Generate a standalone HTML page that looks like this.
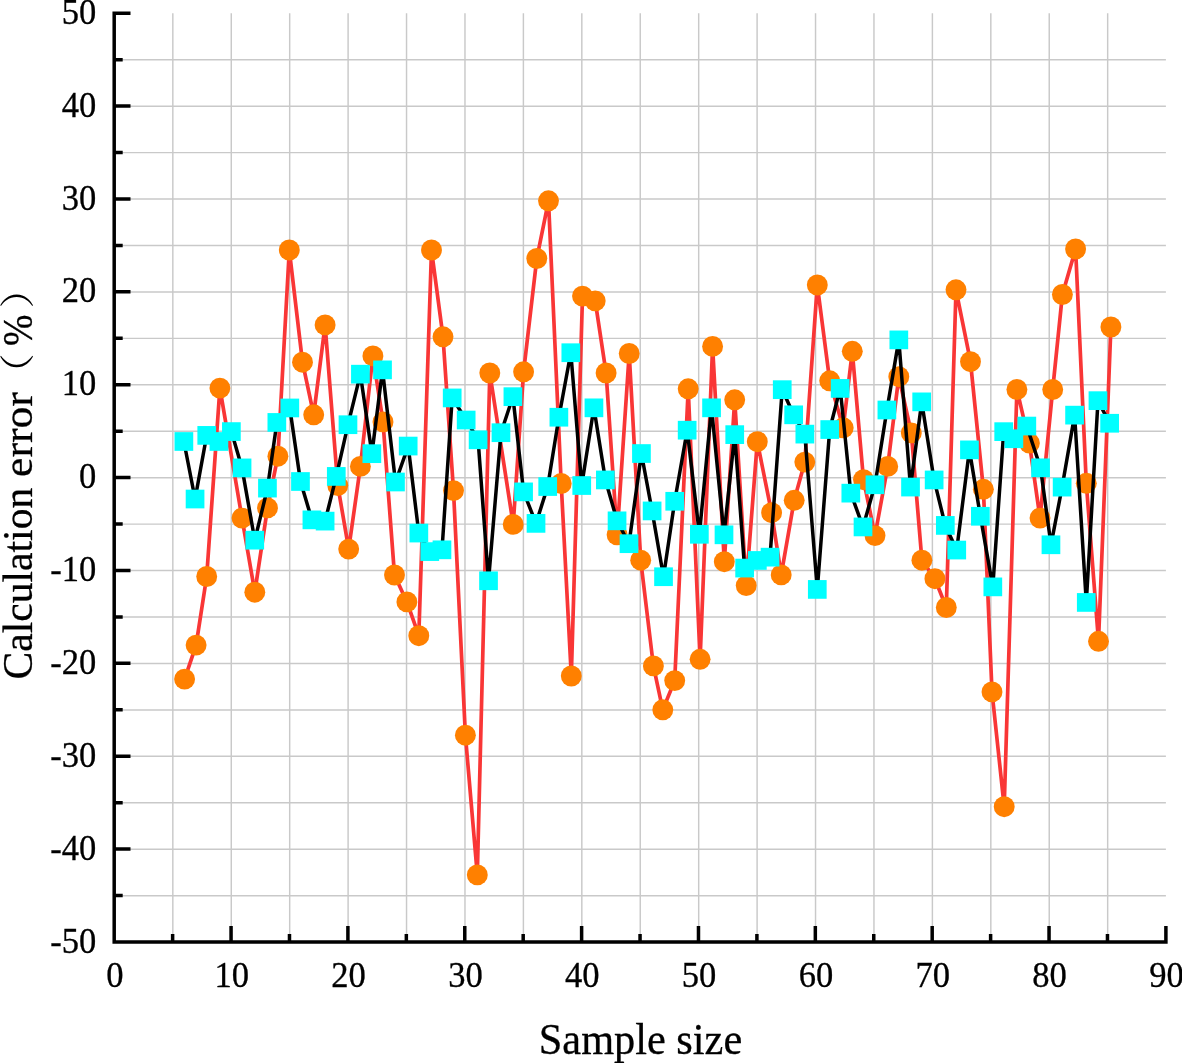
<!DOCTYPE html>
<html><head><meta charset="utf-8"><title>Calculation error vs sample size</title>
<style>html,body{margin:0;padding:0;background:#fff;}body{width:1182px;height:1063px;overflow:hidden;}svg{display:block;}text{font-family:"Liberation Serif","Noto Serif CJK SC",serif;fill:#000;}</style></head><body>
<svg width="1182" height="1063" viewBox="0 0 1182 1063">
<rect width="1182" height="1063" fill="#fff"/>
<path d="M172.83 13.20V942.00M231.26 13.20V942.00M289.68 13.20V942.00M348.11 13.20V942.00M406.54 13.20V942.00M464.97 13.20V942.00M523.39 13.20V942.00M581.82 13.20V942.00M640.25 13.20V942.00M698.68 13.20V942.00M757.11 13.20V942.00M815.53 13.20V942.00M873.96 13.20V942.00M932.39 13.20V942.00M990.82 13.20V942.00M1049.24 13.20V942.00M1107.67 13.20V942.00M114.20 895.66H1165.90M114.20 849.22H1165.90M114.20 802.78H1165.90M114.20 756.34H1165.90M114.20 709.90H1165.90M114.20 663.46H1165.90M114.20 617.02H1165.90M114.20 570.58H1165.90M114.20 524.14H1165.90M114.20 477.70H1165.90M114.20 431.26H1165.90M114.20 384.82H1165.90M114.20 338.38H1165.90M114.20 291.94H1165.90M114.20 245.50H1165.90M114.20 199.06H1165.90M114.20 152.62H1165.90M114.20 106.18H1165.90M114.20 59.74H1165.90" stroke="#c9c9c9" stroke-width="1.45" fill="none"/>
<polyline points="184.6,679.1 196.1,645.1 206.7,576.5 219.9,388.1 242.0,518.1 254.8,592.2 267.5,507.9 277.9,456.2 289.3,250.0 302.5,362.2 313.7,414.8 325.1,324.9 337.8,485.6 348.7,549.1 360.4,466.4 372.9,355.9 383.0,421.9 394.5,575.0 406.9,601.9 418.8,635.7 431.5,250.0 443.0,336.8 453.5,490.6 465.4,735.2 477.3,874.9 489.8,373.0 513.2,524.4 523.6,371.8 536.8,258.5 548.5,200.8 561.2,483.5 571.3,676.0 582.5,296.1 595.2,300.9 606.1,373.0 617.1,534.8 629.2,353.5 640.7,560.2 653.4,665.9 662.8,709.8 674.7,680.6 688.2,388.8 700.1,659.3 712.6,346.4 724.3,561.7 734.7,399.8 746.2,585.6 757.3,441.7 771.6,512.7 781.2,574.9 794.2,500.3 804.8,462.1 817.3,285.0 829.7,380.8 843.2,427.8 852.3,351.3 863.5,479.7 875.0,535.6 887.7,466.4 898.8,376.7 911.3,432.9 921.9,560.2 934.9,578.7 946.3,607.5 956.0,289.8 970.5,361.7 983.4,489.3 992.0,691.9 1004.2,806.7 1016.9,389.5 1029.4,443.1 1040.0,518.1 1052.7,389.5 1062.4,294.5 1075.6,249.0 1086.3,483.3 1098.5,641.3 1110.9,327.0" fill="none" stroke="#f93636" stroke-width="3.7" stroke-linejoin="round"/>
<g fill="#ff8000"><circle cx="184.6" cy="679.1" r="10.45"/><circle cx="196.1" cy="645.1" r="10.45"/><circle cx="206.7" cy="576.5" r="10.45"/><circle cx="219.9" cy="388.1" r="10.45"/><circle cx="242.0" cy="518.1" r="10.45"/><circle cx="254.8" cy="592.2" r="10.45"/><circle cx="267.5" cy="507.9" r="10.45"/><circle cx="277.9" cy="456.2" r="10.45"/><circle cx="289.3" cy="250.0" r="10.45"/><circle cx="302.5" cy="362.2" r="10.45"/><circle cx="313.7" cy="414.8" r="10.45"/><circle cx="325.1" cy="324.9" r="10.45"/><circle cx="337.8" cy="485.6" r="10.45"/><circle cx="348.7" cy="549.1" r="10.45"/><circle cx="360.4" cy="466.4" r="10.45"/><circle cx="372.9" cy="355.9" r="10.45"/><circle cx="383.0" cy="421.9" r="10.45"/><circle cx="394.5" cy="575.0" r="10.45"/><circle cx="406.9" cy="601.9" r="10.45"/><circle cx="418.8" cy="635.7" r="10.45"/><circle cx="431.5" cy="250.0" r="10.45"/><circle cx="443.0" cy="336.8" r="10.45"/><circle cx="453.5" cy="490.6" r="10.45"/><circle cx="465.4" cy="735.2" r="10.45"/><circle cx="477.3" cy="874.9" r="10.45"/><circle cx="489.8" cy="373.0" r="10.45"/><circle cx="513.2" cy="524.4" r="10.45"/><circle cx="523.6" cy="371.8" r="10.45"/><circle cx="536.8" cy="258.5" r="10.45"/><circle cx="548.5" cy="200.8" r="10.45"/><circle cx="561.2" cy="483.5" r="10.45"/><circle cx="571.3" cy="676.0" r="10.45"/><circle cx="582.5" cy="296.1" r="10.45"/><circle cx="595.2" cy="300.9" r="10.45"/><circle cx="606.1" cy="373.0" r="10.45"/><circle cx="617.1" cy="534.8" r="10.45"/><circle cx="629.2" cy="353.5" r="10.45"/><circle cx="640.7" cy="560.2" r="10.45"/><circle cx="653.4" cy="665.9" r="10.45"/><circle cx="662.8" cy="709.8" r="10.45"/><circle cx="674.7" cy="680.6" r="10.45"/><circle cx="688.2" cy="388.8" r="10.45"/><circle cx="700.1" cy="659.3" r="10.45"/><circle cx="712.6" cy="346.4" r="10.45"/><circle cx="724.3" cy="561.7" r="10.45"/><circle cx="734.7" cy="399.8" r="10.45"/><circle cx="746.2" cy="585.6" r="10.45"/><circle cx="757.3" cy="441.7" r="10.45"/><circle cx="771.6" cy="512.7" r="10.45"/><circle cx="781.2" cy="574.9" r="10.45"/><circle cx="794.2" cy="500.3" r="10.45"/><circle cx="804.8" cy="462.1" r="10.45"/><circle cx="817.3" cy="285.0" r="10.45"/><circle cx="829.7" cy="380.8" r="10.45"/><circle cx="843.2" cy="427.8" r="10.45"/><circle cx="852.3" cy="351.3" r="10.45"/><circle cx="863.5" cy="479.7" r="10.45"/><circle cx="875.0" cy="535.6" r="10.45"/><circle cx="887.7" cy="466.4" r="10.45"/><circle cx="898.8" cy="376.7" r="10.45"/><circle cx="911.3" cy="432.9" r="10.45"/><circle cx="921.9" cy="560.2" r="10.45"/><circle cx="934.9" cy="578.7" r="10.45"/><circle cx="946.3" cy="607.5" r="10.45"/><circle cx="956.0" cy="289.8" r="10.45"/><circle cx="970.5" cy="361.7" r="10.45"/><circle cx="983.4" cy="489.3" r="10.45"/><circle cx="992.0" cy="691.9" r="10.45"/><circle cx="1004.2" cy="806.7" r="10.45"/><circle cx="1016.9" cy="389.5" r="10.45"/><circle cx="1029.4" cy="443.1" r="10.45"/><circle cx="1040.0" cy="518.1" r="10.45"/><circle cx="1052.7" cy="389.5" r="10.45"/><circle cx="1062.4" cy="294.5" r="10.45"/><circle cx="1075.6" cy="249.0" r="10.45"/><circle cx="1086.3" cy="483.3" r="10.45"/><circle cx="1098.5" cy="641.3" r="10.45"/><circle cx="1110.9" cy="327.0" r="10.45"/></g>
<polyline points="183.9,441.5 195.1,499.0 206.7,435.4 218.9,441.5 231.4,431.6 242.0,467.9 254.8,540.2 267.5,488.1 276.9,422.4 289.8,408.0 300.5,481.5 311.9,519.8 325.1,521.1 336.3,476.4 348.0,424.7 360.4,374.2 371.9,453.7 382.5,369.9 395.5,482.0 408.2,446.1 418.8,533.1 429.8,551.6 442.0,549.8 452.2,397.9 466.2,420.0 478.1,439.8 488.5,580.8 501.0,432.7 512.9,396.7 523.6,491.9 536.0,523.4 547.7,486.5 558.9,417.2 570.8,352.7 581.7,485.5 593.9,407.8 605.4,479.9 617.1,520.8 629.0,543.7 641.4,453.5 652.1,510.9 663.5,576.7 674.7,501.3 687.2,430.2 699.4,534.3 711.5,407.8 724.0,534.8 734.7,434.6 744.6,568.1 757.3,560.5 770.0,557.2 782.2,389.7 793.7,414.8 804.8,434.1 817.3,589.4 829.7,429.5 840.2,388.4 850.8,493.2 863.0,526.9 875.0,484.8 886.9,410.0 898.8,339.9 910.5,487.1 921.7,401.9 934.1,479.9 945.3,525.4 956.7,550.0 969.4,449.9 980.4,516.3 992.8,586.9 1003.7,431.6 1013.9,438.8 1026.8,426.1 1040.5,467.8 1051.0,544.8 1062.1,487.1 1074.6,415.1 1086.3,602.4 1098.0,400.7 1109.6,423.3" fill="none" stroke="#000" stroke-width="3.5" stroke-linejoin="round"/>
<g fill="#00ffff"><rect x="174.53" y="432.14" width="18.7" height="18.7"/><rect x="185.71" y="489.67" width="18.7" height="18.7"/><rect x="197.39" y="426.04" width="18.7" height="18.7"/><rect x="209.58" y="432.14" width="18.7" height="18.7"/><rect x="222.03" y="422.23" width="18.7" height="18.7"/><rect x="232.70" y="458.55" width="18.7" height="18.7"/><rect x="245.40" y="530.82" width="18.7" height="18.7"/><rect x="258.10" y="478.75" width="18.7" height="18.7"/><rect x="267.50" y="413.09" width="18.7" height="18.7"/><rect x="280.46" y="398.61" width="18.7" height="18.7"/><rect x="291.12" y="472.15" width="18.7" height="18.7"/><rect x="302.56" y="510.50" width="18.7" height="18.7"/><rect x="315.76" y="511.77" width="18.7" height="18.7"/><rect x="326.94" y="467.07" width="18.7" height="18.7"/><rect x="338.63" y="415.37" width="18.7" height="18.7"/><rect x="351.07" y="364.83" width="18.7" height="18.7"/><rect x="362.50" y="444.33" width="18.7" height="18.7"/><rect x="373.17" y="360.51" width="18.7" height="18.7"/><rect x="386.13" y="472.65" width="18.7" height="18.7"/><rect x="398.83" y="436.71" width="18.7" height="18.7"/><rect x="409.50" y="523.71" width="18.7" height="18.7"/><rect x="420.42" y="542.25" width="18.7" height="18.7"/><rect x="432.61" y="540.47" width="18.7" height="18.7"/><rect x="442.84" y="388.58" width="18.7" height="18.7"/><rect x="456.81" y="410.68" width="18.7" height="18.7"/><rect x="468.75" y="430.46" width="18.7" height="18.7"/><rect x="479.17" y="571.43" width="18.7" height="18.7"/><rect x="491.62" y="423.35" width="18.7" height="18.7"/><rect x="503.55" y="387.31" width="18.7" height="18.7"/><rect x="514.22" y="482.53" width="18.7" height="18.7"/><rect x="526.67" y="514.03" width="18.7" height="18.7"/><rect x="538.36" y="477.20" width="18.7" height="18.7"/><rect x="549.53" y="407.88" width="18.7" height="18.7"/><rect x="561.47" y="343.37" width="18.7" height="18.7"/><rect x="572.39" y="476.18" width="18.7" height="18.7"/><rect x="584.59" y="398.49" width="18.7" height="18.7"/><rect x="596.02" y="470.59" width="18.7" height="18.7"/><rect x="607.70" y="511.49" width="18.7" height="18.7"/><rect x="619.64" y="534.35" width="18.7" height="18.7"/><rect x="632.09" y="444.18" width="18.7" height="18.7"/><rect x="642.76" y="501.58" width="18.7" height="18.7"/><rect x="654.19" y="567.37" width="18.7" height="18.7"/><rect x="665.37" y="491.93" width="18.7" height="18.7"/><rect x="677.81" y="420.84" width="18.7" height="18.7"/><rect x="690.01" y="524.95" width="18.7" height="18.7"/><rect x="702.20" y="398.49" width="18.7" height="18.7"/><rect x="714.65" y="525.46" width="18.7" height="18.7"/><rect x="725.38" y="425.28" width="18.7" height="18.7"/><rect x="735.29" y="558.73" width="18.7" height="18.7"/><rect x="747.99" y="551.11" width="18.7" height="18.7"/><rect x="760.69" y="547.81" width="18.7" height="18.7"/><rect x="772.89" y="380.32" width="18.7" height="18.7"/><rect x="784.32" y="405.47" width="18.7" height="18.7"/><rect x="795.49" y="424.77" width="18.7" height="18.7"/><rect x="807.94" y="580.07" width="18.7" height="18.7"/><rect x="820.39" y="420.20" width="18.7" height="18.7"/><rect x="830.80" y="379.05" width="18.7" height="18.7"/><rect x="841.47" y="483.80" width="18.7" height="18.7"/><rect x="853.66" y="517.58" width="18.7" height="18.7"/><rect x="865.60" y="475.42" width="18.7" height="18.7"/><rect x="877.54" y="400.64" width="18.7" height="18.7"/><rect x="889.48" y="330.54" width="18.7" height="18.7"/><rect x="901.17" y="477.71" width="18.7" height="18.7"/><rect x="912.34" y="392.51" width="18.7" height="18.7"/><rect x="924.79" y="470.59" width="18.7" height="18.7"/><rect x="935.97" y="516.06" width="18.7" height="18.7"/><rect x="947.40" y="540.70" width="18.7" height="18.7"/><rect x="960.10" y="440.52" width="18.7" height="18.7"/><rect x="971.02" y="506.92" width="18.7" height="18.7"/><rect x="983.47" y="577.53" width="18.7" height="18.7"/><rect x="994.36" y="422.30" width="18.7" height="18.7"/><rect x="1004.52" y="429.41" width="18.7" height="18.7"/><rect x="1017.47" y="416.71" width="18.7" height="18.7"/><rect x="1031.19" y="458.47" width="18.7" height="18.7"/><rect x="1041.61" y="535.43" width="18.7" height="18.7"/><rect x="1052.78" y="477.77" width="18.7" height="18.7"/><rect x="1065.23" y="405.79" width="18.7" height="18.7"/><rect x="1076.92" y="593.09" width="18.7" height="18.7"/><rect x="1088.60" y="391.31" width="18.7" height="18.7"/><rect x="1100.29" y="413.91" width="18.7" height="18.7"/></g>
<path d="M114.20 11.45V943.75M112.45 942.00H1167.65M172.63 942.00v-8.10M231.06 942.00v-15.90M289.48 942.00v-8.10M347.91 942.00v-15.90M406.34 942.00v-8.10M464.77 942.00v-15.90M523.19 942.00v-8.10M581.62 942.00v-15.90M640.05 942.00v-8.10M698.48 942.00v-15.90M756.91 942.00v-8.10M815.33 942.00v-15.90M873.76 942.00v-8.10M932.19 942.00v-15.90M990.62 942.00v-8.10M1049.04 942.00v-15.90M1107.47 942.00v-8.10M1165.90 942.00v-15.90M114.20 895.56h8.50M114.20 849.12h16.30M114.20 802.68h8.50M114.20 756.24h16.30M114.20 709.80h8.50M114.20 663.36h16.30M114.20 616.92h8.50M114.20 570.48h16.30M114.20 524.04h8.50M114.20 477.60h16.30M114.20 431.16h8.50M114.20 384.72h16.30M114.20 338.28h8.50M114.20 291.84h16.30M114.20 245.40h8.50M114.20 198.96h16.30M114.20 152.52h8.50M114.20 106.08h16.30M114.20 59.64h8.50M114.20 13.20h16.30" stroke="#000" stroke-width="3.5" fill="none" stroke-linecap="butt"/>
<g font-size="34.5" text-anchor="middle" stroke="#000" stroke-width="0.3">
<text transform="translate(114.8 987.2) scale(1 1.04)">0</text>
<text transform="translate(231.7 987.2) scale(1 1.04)">10</text>
<text transform="translate(348.5 987.2) scale(1 1.04)">20</text>
<text transform="translate(465.4 987.2) scale(1 1.04)">30</text>
<text transform="translate(582.2 987.2) scale(1 1.04)">40</text>
<text transform="translate(699.1 987.2) scale(1 1.04)">50</text>
<text transform="translate(815.9 987.2) scale(1 1.04)">60</text>
<text transform="translate(932.8 987.2) scale(1 1.04)">70</text>
<text transform="translate(1049.6 987.2) scale(1 1.04)">80</text>
<text transform="translate(1166.5 987.2) scale(1 1.04)">90</text>
</g>
<g font-size="34.5" text-anchor="end" stroke="#000" stroke-width="0.3">
<text transform="translate(96.2 952.6) scale(1 1.04)">-50</text>
<text transform="translate(96.2 859.7) scale(1 1.04)">-40</text>
<text transform="translate(96.2 766.8) scale(1 1.04)">-30</text>
<text transform="translate(96.2 674.0) scale(1 1.04)">-20</text>
<text transform="translate(96.2 581.1) scale(1 1.04)">-10</text>
<text transform="translate(96.2 488.2) scale(1 1.04)">0</text>
<text transform="translate(96.2 395.3) scale(1 1.04)">10</text>
<text transform="translate(96.2 302.4) scale(1 1.04)">20</text>
<text transform="translate(96.2 209.6) scale(1 1.04)">30</text>
<text transform="translate(96.2 116.7) scale(1 1.04)">40</text>
<text transform="translate(96.2 23.8) scale(1 1.04)">50</text>
</g>
<text transform="translate(640.5 1053.6) scale(1.008 1.06)" font-size="42" text-anchor="middle" stroke="#000" stroke-width="0.3">Sample size</text>
<g transform="translate(32 0) rotate(-90)" stroke="#000" stroke-width="0.3">
<text x="-679.5" y="0" font-size="41.6">Calculation</text>
<text transform="translate(-477 0) scale(1.04 1)" font-size="42">error</text>
<text transform="translate(-393.5 -2) scale(1.15 1)" font-size="35" stroke-width="0">（</text>
<text transform="translate(-346 0) scale(0.9 1)" font-size="42">%</text>
<text transform="translate(-308.5 -2) scale(1.15 1)" font-size="35" stroke-width="0">）</text>
</g>
</svg></body></html>
